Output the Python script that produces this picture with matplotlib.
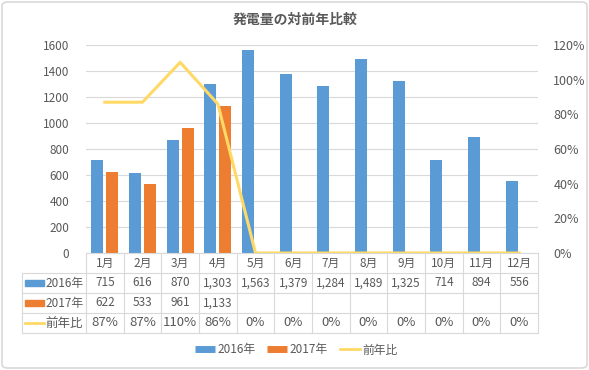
import numpy as np
import matplotlib
matplotlib.use("Agg")
import matplotlib.pyplot as plt
from matplotlib.lines import Line2D
from matplotlib.patches import Rectangle, FancyBboxPatch

plt.rcParams['font.family'] = ['Noto Sans CJK JP', 'DejaVu Sans']

MONTHS = ["1月", "2月", "3月", "4月", "5月", "6月", "7月", "8月", "9月", "10月", "11月", "12月"]
Y2016 = [715, 616, 870, 1303, 1563, 1379, 1284, 1489, 1325, 714, 894, 556]
Y2017 = [622, 533, 961, 1133]
RATIO = [0.87, 0.87, 1.10, 0.86, 0, 0, 0, 0, 0, 0, 0, 0]
LEFT_TICKS = [0, 200, 400, 600, 800, 1000, 1200, 1400, 1600]
RIGHT_TICKS = [0, 0.2, 0.4, 0.6, 0.8, 1.0, 1.2]
SERIES = ["2016年", "2017年", "前年比"]

BLUE = "#5B9BD5"
ORANGE = "#ED7D31"
YELLOW = "#FFD966"
TXT = "#595959"
GRID = "#D9D9D9"
FS = 8.5

W, H = 589, 370
fig = plt.figure(figsize=(W / 100, H / 100), dpi=100)
fig.patch.set_facecolor("white")

# outer chart border
fig.patches.append(FancyBboxPatch((2 / W, 2 / H), 1 - 4 / W, 1 - 4 / H,
                                  boxstyle="round,pad=0,rounding_size=0.01",
                                  transform=fig.transFigure, fc="white",
                                  ec=GRID, lw=1.2, zorder=-1))

x0, x1 = 86, 538
ytop, ybot, ytab = 45, 253, 333
ax = fig.add_axes([x0 / W, 1 - ybot / H, (x1 - x0) / W, (ybot - ytop) / H])
x = np.arange(len(MONTHS))
bw = 0.32
ax.bar(x - 0.2, Y2016, bw, color=BLUE, zorder=2)
ax.bar(x[:len(Y2017)] + 0.2, Y2017, bw, color=ORANGE, zorder=2)
ax.set_xlim(-0.5, 11.5)
ax.set_ylim(0, 1600)
ax.set_yticks(LEFT_TICKS)
ax.set_yticklabels([str(v) for v in LEFT_TICKS])
ax.set_xticks([])
ax.grid(axis="y", color=GRID, lw=0.8, zorder=0)
ax.tick_params(axis="y", length=0, pad=12, labelsize=FS, labelcolor=TXT)
for s in ["left", "right", "top"]:
    ax.spines[s].set_visible(False)
ax.spines["bottom"].set_color(GRID)

ax2 = ax.twinx()
ax2.plot(x, RATIO, color=YELLOW, lw=2.2, zorder=3)
ax2.set_ylim(0, 1.2)
ax2.set_yticks(RIGHT_TICKS)
ax2.set_yticklabels([f"{int(round(v * 100))}%" for v in RIGHT_TICKS])
ax2.tick_params(axis="y", length=0, pad=11, labelsize=9, labelcolor=TXT)
for s in ax2.spines.values():
    s.set_visible(False)

# data table under the plot
tax = fig.add_axes([x0 / W, 1 - ytab / H, (x1 - x0) / W, (ytab - ybot) / H])
tax.set_xlim(-0.5, 11.5)
tax.set_ylim(4, 0)
tax.axis("off")
px = 1 / ((x1 - x0) / 12)  # data units per pixel
xl = -0.5 + (22 - x0) * px
for r in [1, 2, 3, 4]:
    tax.plot([xl, 11.5], [r, r], color=GRID, lw=0.8, clip_on=False)
for c in np.arange(-0.5, 12, 1):
    tax.plot([c, c], [0, 4], color=GRID, lw=0.8, clip_on=False)
tax.plot([xl, xl], [1, 4], color=GRID, lw=0.8, clip_on=False)

for i, m in enumerate(MONTHS):
    tax.text(i, 0.5, m, ha="center", va="center", fontsize=FS, color=TXT)
    tax.text(i, 1.5, f"{Y2016[i]:,}", ha="center", va="center", fontsize=FS, color=TXT)
    if i < len(Y2017):
        tax.text(i, 2.5, f"{Y2017[i]:,}", ha="center", va="center", fontsize=FS, color=TXT)
    tax.text(i, 3.5, f"{int(round(RATIO[i] * 100))}%", ha="center", va="center",
             fontsize=9.5, color=TXT)

kx0 = -0.5 + (25 - x0) * px
kx1 = -0.5 + (44 - x0) * px
tx = -0.5 + (45 - x0) * px
for r, (lab, col) in enumerate(zip(SERIES, [BLUE, ORANGE, YELLOW])):
    yc = r + 1.5
    if r < 2:
        tax.add_patch(Rectangle((kx0, yc - 0.15), kx1 - kx0, 0.3, color=col, clip_on=False))
    else:
        tax.plot([kx0, kx1], [yc, yc], color=col, lw=2, clip_on=False)
    tax.text(tx, yc, lab, ha="left", va="center", fontsize=9 if r == 2 else FS,
             color=TXT, clip_on=False)

handles = [Line2D([], [], color=BLUE, lw=5, solid_capstyle="butt"),
           Line2D([], [], color=ORANGE, lw=5, solid_capstyle="butt"),
           Line2D([], [], color=YELLOW, lw=2)]
fig.legend(handles, SERIES, loc="center", bbox_to_anchor=(296 / W, 1 - 350 / H), ncol=3,
           frameon=False, fontsize=FS, labelcolor=TXT, handlelength=1.7,
           handletextpad=0.2, columnspacing=1.0)

fig.text(295 / W, 1 - 20 / H, "発電量の対前年比較", ha="center", va="center",
         fontsize=10, color=TXT, fontweight="bold")

fig.savefig("out.png", dpi=100)
